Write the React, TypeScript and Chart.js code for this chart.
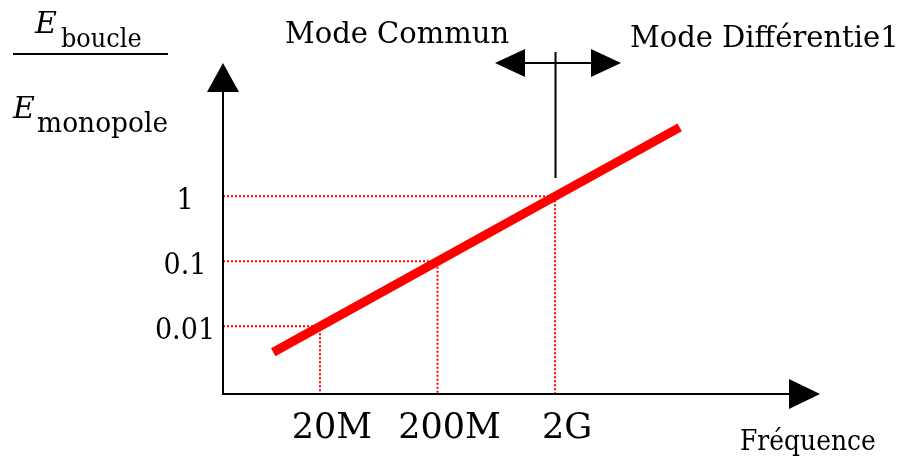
import React, { useEffect, useRef } from 'react';
import { Chart, registerables } from 'chart.js';

Chart.register(...registerables);

// ---- data ----
const freqTicks = [2e7, 2e8, 2e9];
const freqTickLabels = ['20M', '200M', '2G'];
const ratioTicks = [0.01, 0.1, 1];
const ratioTickLabels = ['0.01', '0.1', '1'];
const lineFreq = [8e6, 2.3e10];
const lineRatio = [0.004, 11.5];
const modeBoundaryFreq = 2e9;
const xAxisTitle = 'Fréquence';
const leftModeLabel = 'Mode Commun';
const rightModeLabel = 'Mode Différentie1';
const yTitleSymbol = 'E';
const yTitleNumSub = 'boucle';
const yTitleDenSub = 'monopole';

// ---- scale ranges ----
const X_MIN = 2.99e6;
const X_MAX = 2.43e11;
const Y_MIN = 9.1e-4;
const Y_MAX = 61.5;

const FONT = "'DejaVu Serif', 'Liberation Serif', serif";
const RED = '#ff0000';

function txt(ctx: CanvasRenderingContext2D, s: string, x: number, y: number, sy = 1) {
  ctx.save();
  ctx.translate(x, y);
  ctx.scale(1, sy);
  ctx.fillText(s, 0, 0);
  ctx.restore();
}

const decorPlugin = {
  id: 'decor',
  afterDatasetsDraw(chart: any) {
    const ctx: CanvasRenderingContext2D = chart.ctx;
    const xs = chart.scales.x;
    const ys = chart.scales.y;
    const area = chart.chartArea;
    const ax = area.left;
    const ay = area.bottom;
    ctx.save();
    ctx.strokeStyle = '#000';
    ctx.fillStyle = '#000';
    ctx.lineWidth = 2;
    // y axis
    ctx.beginPath();
    ctx.moveTo(ax, ay + 1);
    ctx.lineTo(ax, 90);
    ctx.stroke();
    ctx.beginPath();
    ctx.moveTo(ax, 63);
    ctx.lineTo(ax - 16, 92);
    ctx.lineTo(ax + 16, 92);
    ctx.closePath();
    ctx.fill();
    // x axis
    ctx.beginPath();
    ctx.moveTo(ax - 1, ay);
    ctx.lineTo(792, ay);
    ctx.stroke();
    ctx.beginPath();
    ctx.moveTo(820, ay);
    ctx.lineTo(789, ay - 15);
    ctx.lineTo(789, ay + 15);
    ctx.closePath();
    ctx.fill();

    // mode boundary marker
    const bx = Math.round(xs.getPixelForValue(modeBoundaryFreq)) + 0.5;
    ctx.beginPath();
    ctx.moveTo(bx, 52);
    ctx.lineTo(bx, 178);
    ctx.stroke();
    ctx.beginPath();
    ctx.moveTo(525, 63);
    ctx.lineTo(593, 63);
    ctx.stroke();
    ctx.beginPath();
    ctx.moveTo(495, 63);
    ctx.lineTo(525, 49);
    ctx.lineTo(525, 77);
    ctx.closePath();
    ctx.fill();
    ctx.beginPath();
    ctx.moveTo(621, 63);
    ctx.lineTo(591, 49);
    ctx.lineTo(591, 77);
    ctx.closePath();
    ctx.fill();

    // texts
    ctx.textBaseline = 'alphabetic';
    ctx.textAlign = 'left';
    ctx.font = `29px ${FONT}`;
    txt(ctx, leftModeLabel, 285, 43, 1.05);
    txt(ctx, rightModeLabel, 630, 47, 1.05);

    ctx.font = `25px ${FONT}`;
    txt(ctx, xAxisTitle, 740, 450, 1.08);

    // x tick labels
    ctx.textAlign = 'center';
    ctx.font = `35px ${FONT}`;
    freqTicks.forEach((f, i) => {
      txt(ctx, freqTickLabels[i], xs.getPixelForValue(f) + 12, 438);
    });
    // y tick labels
    ctx.font = `27px ${FONT}`;
    ratioTicks.forEach((r, i) => {
      txt(ctx, ratioTickLabels[i], 185, ys.getPixelForValue(r) + 13, 1.08);
    });

    // y title as fraction
    ctx.textAlign = 'left';
    ctx.font = `italic 30px ${FONT}`;
    txt(ctx, yTitleSymbol, 35, 33);
    txt(ctx, yTitleSymbol, 13, 118);
    ctx.font = `24px ${FONT}`;
    txt(ctx, yTitleNumSub, 61, 47, 1.08);
    ctx.font = `26.5px ${FONT}`;
    txt(ctx, yTitleDenSub, 37, 132, 1.08);
    ctx.beginPath();
    ctx.moveTo(13, 54);
    ctx.lineTo(168, 54);
    ctx.stroke();

    ctx.restore();
  },
};

export default function App() {
  const ref = useRef<HTMLCanvasElement | null>(null);
  useEffect(() => {
    if (!ref.current) return;
    const guides = freqTicks.map((f, i) => ({
      data: [
        { x: X_MIN, y: ratioTicks[i] },
        { x: f, y: ratioTicks[i] },
        { x: f, y: Y_MIN },
      ],
      borderColor: RED,
      borderWidth: 2,
      borderDash: [2, 2],
      pointRadius: 0,
      fill: false,
      tension: 0,
    }));
    const chart = new Chart(ref.current, {
      type: 'line',
      data: {
        datasets: [
          {
            data: lineFreq.map((f, i) => ({ x: f, y: lineRatio[i] })),
            borderColor: RED,
            borderWidth: 9,
            borderCapStyle: 'butt',
            pointRadius: 0,
            fill: false,
            tension: 0,
          },
          ...guides,
        ] as any,
      },
      options: {
        animation: false,
        responsive: false,
        devicePixelRatio: 1,
        layout: { padding: { left: 223, right: 105, top: 80, bottom: 67 } },
        plugins: { legend: { display: false }, tooltip: { enabled: false } },
        scales: {
          x: { type: 'logarithmic', min: X_MIN, max: X_MAX, display: false },
          y: { type: 'logarithmic', min: Y_MIN, max: Y_MAX, display: false },
        },
      } as any,
      plugins: [decorPlugin],
    });
    return () => chart.destroy();
  }, []);
  return (
    <div style={{ position: 'fixed', left: 0, top: 0, width: 905, height: 461, background: '#fff' }}>
      <canvas ref={ref} width={905} height={461} style={{ display: 'block' }} />
    </div>
  );
}
